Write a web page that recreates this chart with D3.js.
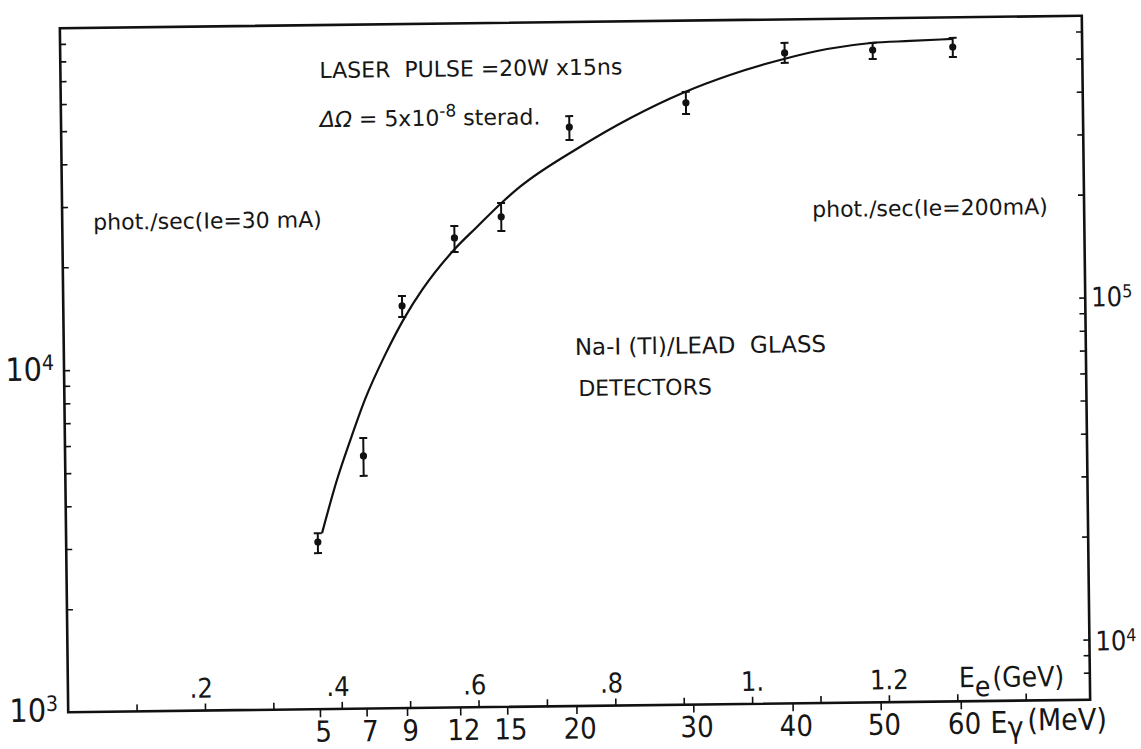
<!DOCTYPE html>
<html>
<head>
<meta charset="utf-8">
<script src="https://cdn.jsdelivr.net/npm/d3@7"></script>
<style>
  body { margin: 0; background: #fff; }
  text { font-family: "DejaVu Sans Condensed", "DejaVu Sans", sans-serif; font-stretch: condensed; fill: #161616; }
  text.note { font-family: "DejaVu Sans", sans-serif; font-stretch: normal; white-space: pre; }
</style>
</head>
<body>
<script>
// measured points: photon energy (MeV) and photon rate (phot./sec at Ie = 30 mA)
var photonEnergy = [5, 7, 9, 12, 15, 20, 30, 40, 50, 60];
var rate     = [3080, 5480, 15000, 23600, 27100, 49300, 57500, 79800, 80800, 81900];
var rateLow  = [2860, 4790, 13920, 21470, 24630, 45190, 53330, 74630, 76030, 76600];
var rateHigh = [3270, 6180, 16030, 25580, 29740, 53090, 61880, 85370, 84750, 87100];

// hand drawn fit curve
var fitEnergy = [5.17, 5.81, 6.40, 7.11, 8.10, 9.15, 10.1, 12.0, 13.4, 15.1, 16.3, 20.8, 25.0, 29.7, 34.3, 39.5, 44.7, 49.8, 54.6, 60.0];
var fitRate   = [3270, 4670, 6070, 8030, 10800, 13930, 16700, 21870, 25360, 29950, 33080, 43070, 52150, 61460, 69100, 76150, 81660, 84730, 85610, 86480];

// axes
var electronTicks = [0.1, 0.2, 0.3, 0.4, 0.5, 0.6, 0.7, 0.8, 0.9, 1.0, 1.1, 1.2, 1.3, 1.4];
var electronLabels = {0.2: ".2", 0.4: ".4", 0.6: ".6", 0.8: ".8", 1.0: "1.", 1.2: "1.2"};
var leftTicks = [2e3, 3e3, 4e3, 5e3, 6e3, 7e3, 8e3, 9e3, 1e4, 2e4, 3e4, 4e4, 5e4, 6e4, 7e4, 8e4, 9e4];
var rightTicks = [8e3, 9e3, 1e4, 2e4, 3e4, 4e4, 5e4, 6e4, 7e4, 8e4, 9e4, 1e5, 2e5, 3e5, 4e5, 5e5, 6e5];
var currentRatio = 200 / 30;   // right scale is for Ie = 200 mA

// compton edge: E_gamma = k Ee^2 / (1 + c Ee)
var K_GAMMA = 37.63, C_GAMMA = 0.0521;
function eeOf(eg) {
  var b = C_GAMMA * eg;
  return (b + Math.sqrt(b * b + 4 * K_GAMMA * eg)) / (2 * K_GAMMA);
}

var width = 1022, height = 684;

var svg = d3.select("body").append("svg")
  .attr("width", 1141)
  .attr("height", 749);

// the original is a slightly tilted scan
var page = svg.append("g").attr("transform", "rotate(-0.7,575,364)");
var g = page.append("g").attr("transform", "translate(64,22)");

var x = d3.scaleLinear().domain([0, width / 684]).range([0, width]);
var y = d3.scaleLog().domain([1e3, 1e5]).range([height, 0]);
var yR = d3.scaleLog().domain([1e3 * currentRatio, 1e5 * currentRatio]).range([height, 0]);

function xg(eg) { return x(eeOf(eg)); }

// frame
g.append("rect")
  .attr("width", width).attr("height", height)
  .attr("fill", "none").attr("stroke", "#111").attr("stroke-width", 2.6);

// left ticks (inside)
g.append("g")
  .call(d3.axisRight(y).tickValues(leftTicks).tickSize(6).tickSizeOuter(0).tickFormat(""))
  .call(function (a) { a.select(".domain").remove(); });

// right ticks (inside)
g.append("g")
  .attr("transform", "translate(" + width + ",0)")
  .call(d3.axisLeft(yR).tickValues(rightTicks).tickSize(6).tickSizeOuter(0).tickFormat(""))
  .call(function (a) { a.select(".domain").remove(); });

// electron energy ticks, upward
var eAxis = g.append("g")
  .attr("transform", "translate(0," + height + ")")
  .call(d3.axisTop(x).tickValues(electronTicks).tickSize(7).tickPadding(6).tickSizeOuter(0)
    .tickFormat(function (d) { return electronLabels[d] || ""; }));
eAxis.select(".domain").remove();
eAxis.selectAll("text")
  .attr("font-size", 27).attr("font-family", null)
  .attr("dx", function (d) { return (electronLabels[d] || "").charAt(0) === "." ? -4 : 0; });

// photon energy ticks, downward
var gAxis = g.append("g")
  .attr("transform", "translate(0," + height + ")")
  .call(d3.axisBottom(x).tickValues(photonEnergy.map(eeOf)).tickSize(8).tickPadding(4).tickSizeOuter(0)
    .tickFormat(function (d, i) { return photonEnergy[i]; }));
gAxis.select(".domain").remove();
gAxis.selectAll("text").attr("font-size", 29).attr("font-family", null).attr("dx", 3);

g.selectAll(".tick line").attr("stroke", "#111").attr("stroke-width", 1.6);

// axis unit labels
var eLab = g.append("text").attr("x", 891).attr("y", 670).attr("font-size", 28);
eLab.append("tspan").text("E");
eLab.append("tspan").attr("dy", 9).text("e");
eLab.append("tspan").attr("dy", -9).attr("dx", 2).text("(GeV)");

var gLab = g.append("text").attr("x", 922).attr("y", 716).attr("font-size", 30);
gLab.append("tspan").text("E");
gLab.append("tspan").attr("dy", 5).text("γ");
gLab.append("tspan").attr("dy", -7).attr("dx", 4).text("(MeV)");

// decade labels
function power(sel, exp) {
  sel.append("tspan").text("10");
  sel.append("tspan").attr("dy", "-0.5em").attr("font-size", "0.66em").text(exp);
}
g.append("text").attr("x", -10).attr("y", y(1e3) + 9).attr("font-size", 32).attr("text-anchor", "end").call(power, "3");
g.append("text").attr("x", -10).attr("y", y(1e4) + 10).attr("font-size", 32).attr("text-anchor", "end").call(power, "4");
g.append("text").attr("x", width + 6).attr("y", yR(1e5) + 9).attr("font-size", 27).call(power, "5");
g.append("text").attr("x", width + 6).attr("y", yR(1e4) + 11).attr("font-size", 27).call(power, "4");

// fit curve
g.append("path")
  .datum(fitEnergy.map(function (e, i) { return [e, fitRate[i]]; }))
  .attr("fill", "none").attr("stroke", "#111").attr("stroke-width", 2.2)
  .attr("d", d3.line()
    .x(function (d) { return xg(d[0]); })
    .y(function (d) { return y(d[1]); })
    .curve(d3.curveMonotoneX));

// data points with error bars
var pts = g.selectAll(".pt").data(photonEnergy).enter().append("g").attr("class", "pt");
pts.append("line")
  .attr("x1", xg).attr("x2", xg)
  .attr("y1", function (d, i) { return y(rateLow[i]); })
  .attr("y2", function (d, i) { return y(rateHigh[i]); })
  .attr("stroke", "#111").attr("stroke-width", 2);
[rateLow, rateHigh].forEach(function (arr) {
  pts.append("line")
    .attr("x1", function (d) { return xg(d) - 4; })
    .attr("x2", function (d) { return xg(d) + 4; })
    .attr("y1", function (d, i) { return y(arr[i]); })
    .attr("y2", function (d, i) { return y(arr[i]); })
    .attr("stroke", "#111").attr("stroke-width", 2);
});
pts.append("circle")
  .attr("cx", xg)
  .attr("cy", function (d, i) { return y(rate[i]); })
  .attr("r", 3.6).attr("fill", "#111");

// annotations
g.append("text").attr("class", "note").attr("x", 259).attr("y", 53).attr("font-size", 22).text("LASER  PULSE =20W x15ns");
var sr = g.append("text").attr("class", "note").attr("x", 259).attr("y", 102).attr("font-size", 22);
sr.append("tspan").attr("font-style", "italic").text("ΔΩ");
sr.append("tspan").text(" = 5x10");
sr.append("tspan").attr("dy", -9).attr("font-size", 17).text("-8");
sr.append("tspan").attr("dy", 9).text(" sterad.");

g.append("text").attr("class", "note").attr("x", 31).attr("y", 202).attr("font-size", 22).text("phot./sec(Ie=30 mA)");
g.append("text").attr("class", "note").attr("x", 750).attr("y", 198).attr("font-size", 22).text("phot./sec(Ie=200mA)");
g.append("text").attr("class", "note").attr("x", 511).attr("y", 333).attr("font-size", 23).text("Na-I (Tl)/LEAD  GLASS");
g.append("text").attr("class", "note").attr("x", 514).attr("y", 374).attr("font-size", 22).text("DETECTORS");
</script>
</body>
</html>
